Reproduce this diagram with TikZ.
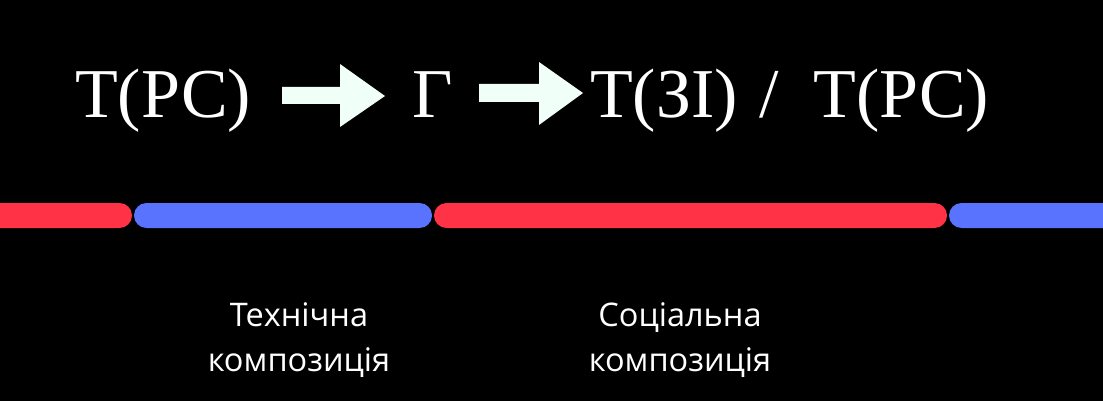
\documentclass[tikz,border=0pt]{standalone}
\usepackage{fontspec}
\setmainfont{Liberation Serif}
\newfontfamily\labelfont{Open Sans}
\definecolor{barred}{HTML}{FF3246}
\definecolor{barblue}{HTML}{5A73FF}
\definecolor{arrowfill}{HTML}{F0FFF8}
\begin{document}
\begin{tikzpicture}[x=1pt, y=-1pt,
  formula/.style={anchor=base west, text=white, inner sep=0pt, font=\fontsize{70}{84}\selectfont},
  caption/.style={anchor=north, text=white, inner sep=0pt, align=center, font=\labelfont\fontsize{32.5}{45}\selectfont},
  barpiece/.style={rounded corners=12.5pt},
  blockarrow/.style={fill=arrowfill}]
% Background and frame
\fill[black] (0,0) rectangle (1103,401);
\useasboundingbox (0,0) rectangle (1103,401);
\clip (0,0) rectangle (1103,401);

% Formula on top
\node[formula] (trs) at (75,118) {Т(РС)};
\node[formula] (g) at (412,118) {Г};
\node[formula] (tzi) at (590,118) {Т(ЗІ)\hspace{22pt}/\hspace{34pt}Т(РС)};

% Block arrows between the terms
\fill[blockarrow] (282,87) -- (340,87) -- (340,64) -- (385,96) -- (340,127) -- (340,104) -- (282,104) -- cycle;
\fill[blockarrow] (479,84) -- (539,84) -- (539,62) -- (583,93) -- (539,125) -- (539,102) -- (479,102) -- cycle;

% Coloured bar
\fill[barred, barpiece] (-20,203) rectangle (132,228);
\fill[barblue, barpiece] (134,203) rectangle (432,228);
\fill[barred, barpiece] (434,203) rectangle (947,228);
\fill[barblue, barpiece] (949,203) rectangle (1130,228);

% Captions
\node[caption] (tech) at (299,302) {Технічна\\композиція};
\node[caption] (soc) at (680,302) {Соціальна\\композиція};
\end{tikzpicture}
\end{document}
